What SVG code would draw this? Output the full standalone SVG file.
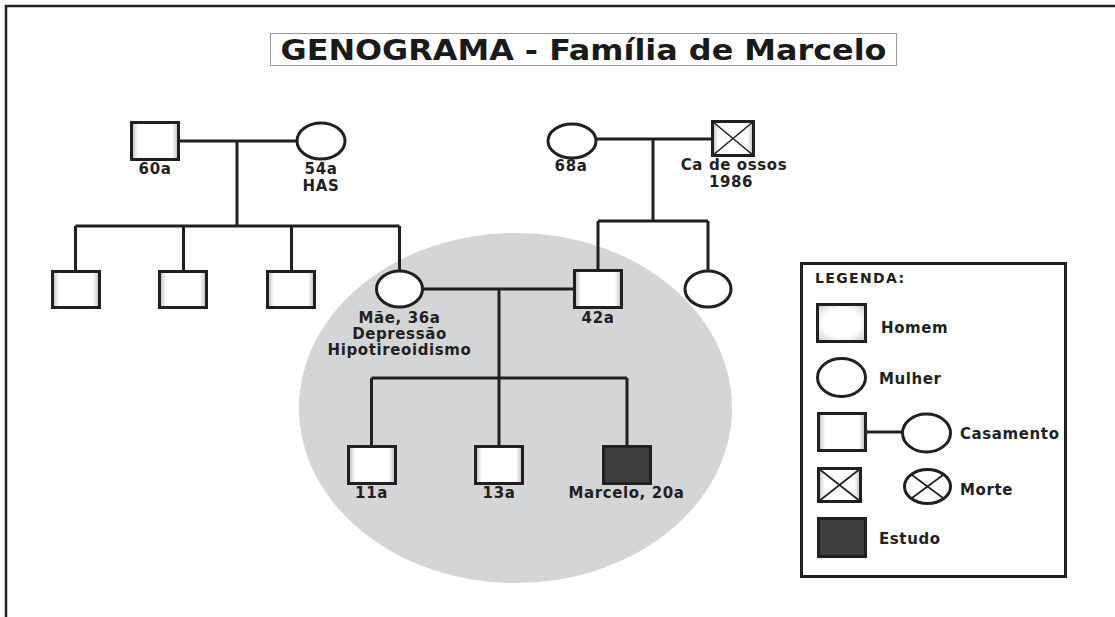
<svg xmlns="http://www.w3.org/2000/svg" width="1115" height="617" viewBox="0 0 1115 617">
<defs>
<linearGradient id="sqg" x1="0" y1="0" x2="1" y2="0">
<stop offset="0" stop-color="#b8b8b8"/>
<stop offset="0.14" stop-color="#ffffff"/>
<stop offset="0.86" stop-color="#ffffff"/>
<stop offset="1" stop-color="#b8b8b8"/>
</linearGradient>
<radialGradient id="homg" cx="0.5" cy="0.5" r="0.7">
<stop offset="0.55" stop-color="#ffffff"/>
<stop offset="1" stop-color="#c9c9c9"/>
</radialGradient>
<style>
.sq{fill:url(#sqg);stroke:#231f20;stroke-width:3}
.ci{fill:#ffffff;stroke:#231f20;stroke-width:3}
.dk{fill:#3d3e40;stroke:#231f20;stroke-width:3}
.ln{fill:none;stroke:#231f20;stroke-width:3}
.xl{fill:none;stroke:#231f20;stroke-width:1.6}
.lb{font-family:"DejaVu Sans",Verdana,sans-serif;font-weight:bold;font-size:15px;fill:#231f20;letter-spacing:0.6px}
.lbm{text-anchor:middle}
.tt{font-family:"DejaVu Sans Condensed","DejaVu Sans",sans-serif;font-weight:bold;font-size:29px;fill:#1a1a1a}
</style>
</defs>
<rect width="1115" height="617" fill="#ffffff"/>
<!-- frame -->
<path d="M6 617 V6 H1115" fill="none" stroke="#231f20" stroke-width="2.5"/>
<!-- title -->
<g id="title">
<rect x="270.5" y="33.5" width="626" height="32" fill="#ffffff" stroke="#999999" stroke-width="1"/>
<text class="tt" x="583.5" y="60" text-anchor="middle" textLength="606" lengthAdjust="spacingAndGlyphs">GENOGRAMA - Família de Marcelo</text>
</g>
<!-- highlight ellipse -->
<ellipse id="nuclear-family-area" cx="515.5" cy="408" rx="216.5" ry="175" fill="#d4d5d7"/>
<!-- connectors -->
<g id="connectors" class="ln">
<path class="ln" d="M180 141 H297"/>
<path class="ln" d="M237 141 V226"/>
<path class="ln" d="M75.5 226 H399.5"/>
<path class="ln" d="M75.5 226 V270 M183.5 226 V270 M291.5 226 V270 M399.5 226 V271"/>
<path class="ln" d="M596 139 H711"/>
<path class="ln" d="M653 139 V221"/>
<path class="ln" d="M598 221 H708"/>
<path class="ln" d="M598 221 V269 M708 221 V271"/>
<path class="ln" d="M423 289 H573"/>
<path class="ln" d="M499 289 V378"/>
<path class="ln" d="M371.5 378 H627"/>
<path class="ln" d="M371.5 378 V445 M499 378 V445 M627 378 V445"/>
</g>
<!-- paternal grandparents -->
<g id="avo-paterno">
<rect class="sq" x="131.5" y="122.5" width="47" height="37"/>
<text class="lb lbm" x="155" y="174">60a</text>
</g>
<g id="avo-paterna">
<ellipse class="ci" cx="321" cy="141" rx="24" ry="18"/>
<text class="lb lbm" x="321" y="174">54a</text>
<text class="lb lbm" x="321" y="191">HAS</text>
</g>
<!-- paternal-side children -->
<g id="tio-1"><rect class="sq" x="52.5" y="271.5" width="47" height="36"/></g>
<g id="tio-2"><rect class="sq" x="159.5" y="271.5" width="47" height="36"/></g>
<g id="tio-3"><rect class="sq" x="267.5" y="271.5" width="47" height="36"/></g>
<g id="mae">
<ellipse class="ci" cx="399.5" cy="289" rx="23" ry="18"/>
<text class="lb lbm" x="399.5" y="323">Mãe, 36a</text>
<text class="lb lbm" x="399.5" y="339">Depressão</text>
<text class="lb lbm" x="399.5" y="355">Hipotireoidismo</text>
</g>
<!-- maternal grandparents -->
<g id="avo-materna">
<ellipse class="ci" cx="572" cy="141" rx="24" ry="17"/>
<text class="lb lbm" x="571" y="171">68a</text>
</g>
<g id="avo-materno">
<rect class="sq" x="712.5" y="121.5" width="41" height="34"/>
<path class="xl" d="M712.5 121.5 L753.5 155.5 M753.5 121.5 L712.5 155.5"/>
<text class="lb lbm" x="734" y="170">Ca de ossos</text>
<text class="lb lbm" x="731" y="187">1986</text>
</g>
<g id="pai">
<rect class="sq" x="574.5" y="270.5" width="47" height="37"/>
<text class="lb lbm" x="598" y="323">42a</text>
</g>
<g id="tia">
<ellipse class="ci" cx="708" cy="289" rx="23" ry="18"/>
</g>
<!-- children -->
<g id="filho-11a">
<rect class="sq" x="348.5" y="446.5" width="47" height="37"/>
<text class="lb lbm" x="371.5" y="498">11a</text>
</g>
<g id="filho-13a">
<rect class="sq" x="475.5" y="446.5" width="47" height="37"/>
<text class="lb lbm" x="499" y="498">13a</text>
</g>
<g id="marcelo">
<rect class="dk" x="603.5" y="446.5" width="47" height="37"/>
<text class="lb lbm" x="626.5" y="498">Marcelo, 20a</text>
</g>
<!-- legend -->
<g id="legenda">
<rect x="801.5" y="263.5" width="264" height="313" fill="#ffffff" stroke="#231f20" stroke-width="3"/>
<text class="lb" x="815" y="283" style="font-size:14px;letter-spacing:0" textLength="89" lengthAdjust="spacing">LEGENDA:</text>
<rect x="817.5" y="304.5" width="48" height="37" fill="url(#homg)" stroke="#231f20" stroke-width="3"/>
<text class="lb" x="881" y="333">Homem</text>
<ellipse class="ci" cx="841.5" cy="377.5" rx="24" ry="19"/>
<text class="lb" x="879" y="384">Mulher</text>
<rect class="sq" x="818.5" y="413.5" width="47" height="37"/>
<path class="ln" d="M867 432 H902"/>
<ellipse class="ci" cx="926.5" cy="433" rx="24" ry="19"/>
<text class="lb" x="960" y="439">Casamento</text>
<rect class="sq" x="818.5" y="468.5" width="42" height="33"/>
<path class="xl" d="M818.5 468.5 L860.5 501.5 M860.5 468.5 L818.5 501.5"/>
<ellipse class="ci" cx="927.5" cy="486.5" rx="23" ry="17"/>
<path class="xl" d="M911.3 474.5 L943.7 498.5 M943.7 474.5 L911.3 498.5"/>
<text class="lb" x="960" y="495">Morte</text>
<rect class="dk" x="818.5" y="518.5" width="47" height="38"/>
<text class="lb" x="879" y="544">Estudo</text>
</g>
</svg>
